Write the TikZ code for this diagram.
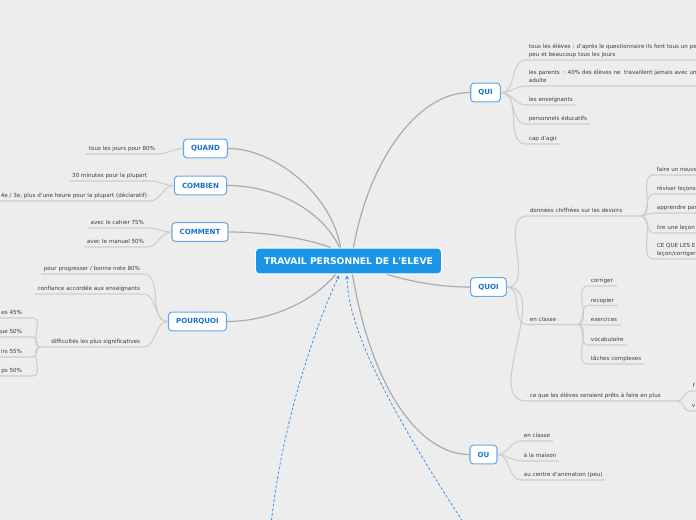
\documentclass[tikz,border=0pt]{standalone}
\usepackage{fontspec}
\setmainfont{DejaVu Sans}
\definecolor{bggray}{HTML}{EDEDED}
\definecolor{rootblue}{HTML}{1B96E6}
\definecolor{boxblue}{HTML}{62A9EE}
\definecolor{textblue}{HTML}{1A72CF}
\definecolor{mainline}{HTML}{ABABAB}
\definecolor{leafline}{HTML}{CDCDCD}
\definecolor{leaftext}{HTML}{3C3C3C}
\definecolor{linkblue}{HTML}{3C8FE6}
\usepackage{tikz}
\usetikzlibrary{arrows.meta, calc}

\begin{document}
\begin{tikzpicture}[x=0.75pt, y=-0.75pt,
  rootbox/.style={draw=white, fill=rootblue, line width=0.8pt, rounded corners=3pt, text=white, font=\fontsize{6.9}{8}\selectfont\bfseries, minimum height=19.5pt, inner xsep=6.5pt},
  topic/.style={draw=boxblue, fill=white, line width=0.8pt, rounded corners=2.5pt, text=textblue, font=\fontsize{5.3}{6}\selectfont\bfseries, minimum height=14pt, inner xsep=5.7pt},
  leaf/.style={font=\fontsize{4.2}{6}\selectfont, text=leaftext, inner xsep=2pt, inner ysep=1.2pt, text depth=1pt, align=left},
  branch/.style={draw=mainline, line width=0.9pt},
  twig/.style={draw=leafline, line width=0.8pt},
  link/.style={draw=linkblue, line width=0.6pt, dash pattern=on 2pt off 1.5pt, -{Stealth[length=3pt, width=3pt]}}
]
  \useasboundingbox (0,0) rectangle (696,520);
  \clip (0,0) rectangle (696,520);
  \fill[bggray] (0,0) rectangle (696,520);

  \node[rootbox] (root) at (348.5,261) {TRAVAIL PERSONNEL DE L\textquotesingle ELEVE};
  \node[topic] (quand) at (205.5,148.5) {QUAND};
  \node[topic] (combien) at (200.5,185.5) {COMBIEN};
  \node[topic] (comment) at (200,232) {COMMENT};
  \node[topic] (pourquoi) at (197.5,321.5) {POURQUOI};
  \node[topic] (qui) at (485.5,92.5) {QUI};
  \node[topic] (quoi) at (488.5,287) {QUOI};
  \node[topic] (ou) at (483.5,454.5) {OU};

  \draw[branch] ($(root.north)+(-8,0)$) .. controls (332,195) and (275,148.5) .. (quand.east);
  \draw[branch] ($(root.north)+(-9,0)$) .. controls (322,210) and (275,185.5) .. (combien.east);
  \draw[branch] ($(root.north)+(-18,0)$) .. controls (305,238) and (265,232) .. (comment.east);
  \draw[branch] ($(root.south)+(-13,0)$) .. controls (310,305) and (265,321.5) .. (pourquoi.east);
  \draw[branch] ($(root.north)+(5,0)$) .. controls (368,165) and (415,92.5) .. (qui.west);
  \draw[branch] ($(root.south east)+(-55,0)$) .. controls (420,284) and (445,287) .. (quoi.west);
  \draw[branch] ($(root.south)+(4,0)$) .. controls (372,390) and (420,454.5) .. (ou.west);

  \node[leaf, anchor=south east] (qd1) at (158,154) {tous les jours pour 80\%};
  \draw[twig] (qd1.south west) -- (qd1.south east) to[out=0,in=180] (quand.west);

  \node[leaf, anchor=south east] (cb1) at (150,181) {30 minutes pour la plupart};
  \node[leaf, anchor=south east] (cb2) at (150,201) {4e / 3e, plus d'une heure pour la plupart (déclaratif)};
  \draw[twig] (cb1.south west) -- (cb1.south east) to[out=0,in=180] (combien.west);
  \draw[twig] (cb2.south west) -- (cb2.south east) to[out=0,in=180] (combien.west);

  \node[leaf, anchor=south east] (cm1) at (147,228) {avec le cahier 75\%};
  \node[leaf, anchor=south east] (cm2) at (147,247) {avec le manuel 50\%};
  \draw[twig] (cm1.south west) -- (cm1.south east) to[out=0,in=180] (comment.west);
  \draw[twig] (cm2.south west) -- (cm2.south east) to[out=0,in=180] (comment.west);

  \node[leaf, anchor=south east] (pq1) at (143,274) {pour progresser / bonne note 80\%};
  \node[leaf, anchor=south east] (pq2) at (143,294) {confiance accordée aux enseignants};
  \node[leaf, anchor=south east] (pq3) at (143,347) {difficultés les plus significatives};
  \coordinate (dfj) at (40,347);
  \draw[twig] (pq1.south west) -- (pq1.south east) to[out=0,in=180] (pourquoi.west);
  \draw[twig] (pq2.south west) -- (pq2.south east) to[out=0,in=180] (pourquoi.west);
  \draw[twig] (dfj) -- (pq3.south west) -- (pq3.south east) to[out=0,in=180] (pourquoi.west);

  \node[leaf, anchor=south east] (df1) at (25,318) {es 45\%};
  \node[leaf, anchor=south east] (df2) at (25,337) {que 50\%};
  \node[leaf, anchor=south east] (df3) at (25,357) {irs 55\%};
  \node[leaf, anchor=south east] (df4) at (25,376) {ps 50\%};
  \draw[twig] (df1.south west) -- (df1.south east) -- ++(8,0) to[out=0,in=180] (dfj);
  \draw[twig] (df2.south west) -- (df2.south east) -- ++(8,0) to[out=0,in=180] (dfj);
  \draw[twig] (df3.south west) -- (df3.south east) -- ++(8,0) to[out=0,in=180] (dfj);
  \draw[twig] (df4.south west) -- (df4.south east) -- ++(8,0) to[out=0,in=180] (dfj);

  \node[leaf, anchor=south west] (qi1) at (526,60) {tous les élèves : d'après le questionnaire ils font tous un pet\\peu et beaucoup tous les jours};
  \node[leaf, anchor=south west] (qi2) at (526,86) {les parents~~: 40\% des élèves ne~~travaillent jamais avec un\\adulte};
  \node[leaf, anchor=south west] (qi3) at (526,105) {les enseignants};
  \node[leaf, anchor=south west] (qi4) at (526,124) {personnels éducatifs};
  \node[leaf, anchor=south west] (qi5) at (526,144) {cap d'agir};
  \draw[twig] (qui.east) to[out=0,in=180] (qi1.south west) -- ++(180,0);
  \draw[twig] (qui.east) to[out=0,in=180] (qi2.south west) -- ++(180,0);
  \draw[twig] (qui.east) to[out=0,in=180] (qi3.south west) -- (qi3.south east);
  \draw[twig] (qui.east) to[out=0,in=180] (qi4.south west) -- (qi4.south east);
  \draw[twig] (qui.east) to[out=0,in=180] (qi5.south west) -- (qi5.south east);

  \node[leaf, anchor=south west] (dc) at (527,216) {données chiffrées sur les devoirs};
  \coordinate (dcj) at (640,216);
  \draw[twig] (quoi.east) to[out=0,in=180] (dc.south west) -- (dcj);
  \node[leaf, anchor=south west] (dc1) at (654,175) {faire un nouve};
  \node[leaf, anchor=south west] (dc2) at (654,194) {réviser leçons};
  \node[leaf, anchor=south west] (dc3) at (654,213) {apprendre par};
  \node[leaf, anchor=south west] (dc4) at (654,233) {lire une leçon};
  \node[leaf, anchor=south west] (dc5) at (654,259) {CE QUE LES E\\leçon/corriger};
  \draw[twig] (dcj) to[out=0,in=180] (dc1.south west) -- ++(60,0);
  \draw[twig] (dcj) to[out=0,in=180] (dc2.south west) -- ++(60,0);
  \draw[twig] (dcj) to[out=0,in=180] (dc3.south west) -- ++(60,0);
  \draw[twig] (dcj) to[out=0,in=180] (dc4.south west) -- ++(60,0);
  \draw[twig] (dcj) to[out=0,in=180] (dc5.south west) -- ++(60,0);

  \node[leaf, anchor=south west] (ec) at (527,324.5) {en classe};
  \coordinate (ecj) at (577,324.5);
  \draw[twig] (quoi.east) to[out=0,in=180] (ec.south west) -- (ecj);
  \node[leaf, anchor=south west] (ec1) at (588,286) {corriger};
  \node[leaf, anchor=south west] (ec2) at (588,305.5) {recopier};
  \node[leaf, anchor=south west] (ec3) at (588,325) {exercices};
  \node[leaf, anchor=south west] (ec4) at (588,345) {vocabulaire};
  \node[leaf, anchor=south west] (ec5) at (588,364) {tâches complexes};
  \draw[twig] (ecj) to[out=0,in=180] (ec1.south west) -- ++(29,0);
  \draw[twig] (ecj) to[out=0,in=180] (ec2.south west) -- ++(30,0);
  \draw[twig] (ecj) to[out=0,in=180] (ec3.south west) -- ++(33,0);
  \draw[twig] (ecj) to[out=0,in=180] (ec4.south west) -- ++(39,0);
  \draw[twig] (ecj) to[out=0,in=180] (ec5.south west) -- ++(56,0);

  \node[leaf, anchor=south west] (cq) at (527,401) {ce que les élèves seraient prêts à faire en plus};
  \coordinate (cqj) at (678,401);
  \draw[twig] (quoi.east) to[out=0,in=180] (cq.south west) -- (cqj);
  \node[leaf, anchor=south west] (cq1) at (690,391) {f};
  \node[leaf, anchor=south west] (cq2) at (689,411) {v};
  \draw[twig] (cqj) to[out=0,in=180] (cq1.south west) -- ++(10,0);
  \draw[twig] (cqj) to[out=0,in=180] (cq2.south west) -- ++(10,0);

  \node[leaf, anchor=south west] (ou1) at (521,441) {en classe};
  \node[leaf, anchor=south west] (ou2) at (521,461) {à la maison};
  \node[leaf, anchor=south west] (ou3) at (521,480) {au centre d'animation (peu)};
  \draw[twig] (ou.east) to[out=0,in=180] (ou1.south west) -- (ou1.south east);
  \draw[twig] (ou.east) to[out=0,in=180] (ou2.south west) -- (ou2.south east);
  \draw[twig] (ou.east) to[out=0,in=180] (ou3.south west) -- (ou3.south east);

  \coordinate (lkA) at (271,525);
  \coordinate (lkB) at (465,525);
  \draw[link] (lkA) .. controls (282,420) and (318,320) .. ($(root.south)+(-9.5,1)$);
  \draw[link] (lkB) .. controls (400,425) and (348,335) .. ($(root.south)+(-1.5,1)$);
\end{tikzpicture}
\end{document}
